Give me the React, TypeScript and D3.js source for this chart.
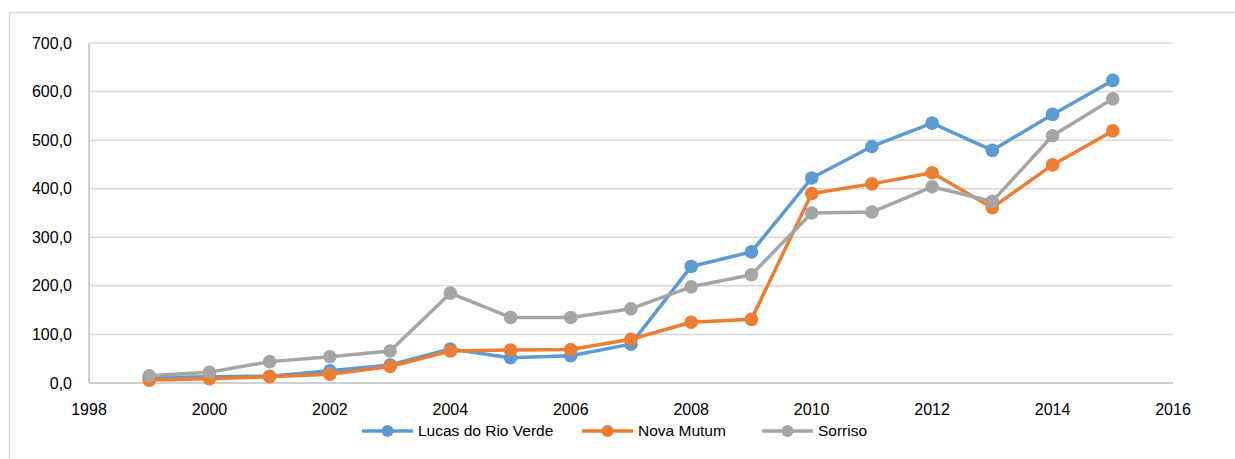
import React from "react";
import * as d3 from "d3";

const years = [1999, 2000, 2001, 2002, 2003, 2004, 2005, 2006, 2007, 2008, 2009, 2010, 2011, 2012, 2013, 2014, 2015];
const lucasDoRioVerde = [11, 13, 14, 25, 37, 70, 52, 56, 80, 240, 270, 422, 487, 535, 479, 553, 623];
const novaMutum = [6, 9, 13, 18, 34, 66, 68, 69, 90, 125, 131, 390, 410, 433, 361, 449, 519];
const sorriso = [15, 22, 44, 54, 66, 185, 135, 135, 153, 198, 223, 350, 352, 404, 374, 509, 585];
const seriesNames = ["Lucas do Rio Verde", "Nova Mutum", "Sorriso"];
const seriesColors = ["#5B9BD5", "#ED7D31", "#A5A5A5"];
const yTicks = [0, 100, 200, 300, 400, 500, 600, 700];
const xTicks = [1998, 2000, 2002, 2004, 2006, 2008, 2010, 2012, 2014, 2016];

const W = 1235;
const H = 459;
const FONT = "'Liberation Sans', Arial, sans-serif";

export default function App() {
  const x = d3.scaleLinear().domain([1998, 2016]).range([89, 1173]);
  const y = d3.scaleLinear().domain([0, 700]).range([383, 43]);
  const fmt = (v: number) => d3.format(".1f")(v).replace(".", ",");
  const allSeries = [lucasDoRioVerde, novaMutum, sorriso];
  const line = d3
    .line<number>()
    .x((_, i) => x(years[i]))
    .y((d) => y(d));

  const legendItems = [
    { lineX: 362, textX: 418 },
    { lineX: 582, textX: 638 },
    { lineX: 762, textX: 818 },
  ];
  const legendY = 431;

  return (
    <svg
      width={W}
      height={H}
      style={{ position: "absolute", left: 0, top: 0, display: "block" }}
      fontFamily={FONT}
    >
      <rect x={0} y={0} width={W} height={H} fill="#fff" />
      {/* chart frame */}
      <path d={`M9.5,${H} V12.5 H${W}`} fill="none" stroke="#d9d9d9" strokeWidth={1.5} />

      {/* horizontal gridlines */}
      {yTicks.slice(1).map((t) => (
        <line key={t} x1={x(1998)} x2={x(2016)} y1={y(t)} y2={y(t)} stroke="#d9d9d9" strokeWidth={1.5} />
      ))}
      {/* axes */}
      <line x1={x(1998)} x2={x(2016)} y1={y(0)} y2={y(0)} stroke="#bfbfbf" strokeWidth={1.5} />
      <line x1={x(1998)} x2={x(1998)} y1={y(0)} y2={y(700)} stroke="#bfbfbf" strokeWidth={1.5} />

      {/* y tick labels */}
      {yTicks.map((t) => (
        <text key={t} x={72} y={y(t)} dy="0.35em" textAnchor="end" fontSize={16} fill="#000">
          {fmt(t)}
        </text>
      ))}
      {/* x tick labels */}
      {xTicks.map((t) => (
        <text key={t} x={x(t)} y={409} dy="0.35em" textAnchor="middle" fontSize={16} fill="#000">
          {t}
        </text>
      ))}

      {/* series */}
      {allSeries.map((vals, si) => (
        <g key={si}>
          <path d={line(vals) || ""} fill="none" stroke={seriesColors[si]} strokeWidth={3.5} strokeLinejoin="round" />
          {vals.map((v, i) => (
            <circle key={i} cx={x(years[i])} cy={y(v)} r={6.8} fill={seriesColors[si]} />
          ))}
        </g>
      ))}

      {/* legend */}
      {legendItems.map((it, i) => (
        <g key={i}>
          <line x1={it.lineX} x2={it.lineX + 51} y1={legendY} y2={legendY} stroke={seriesColors[i]} strokeWidth={3.5} />
          <circle cx={it.lineX + 25.5} cy={legendY} r={6} fill={seriesColors[i]} />
          <text x={it.textX} y={legendY} dy="0.35em" fontSize={15.5} fill="#000">
            {seriesNames[i]}
          </text>
        </g>
      ))}
    </svg>
  );
}
